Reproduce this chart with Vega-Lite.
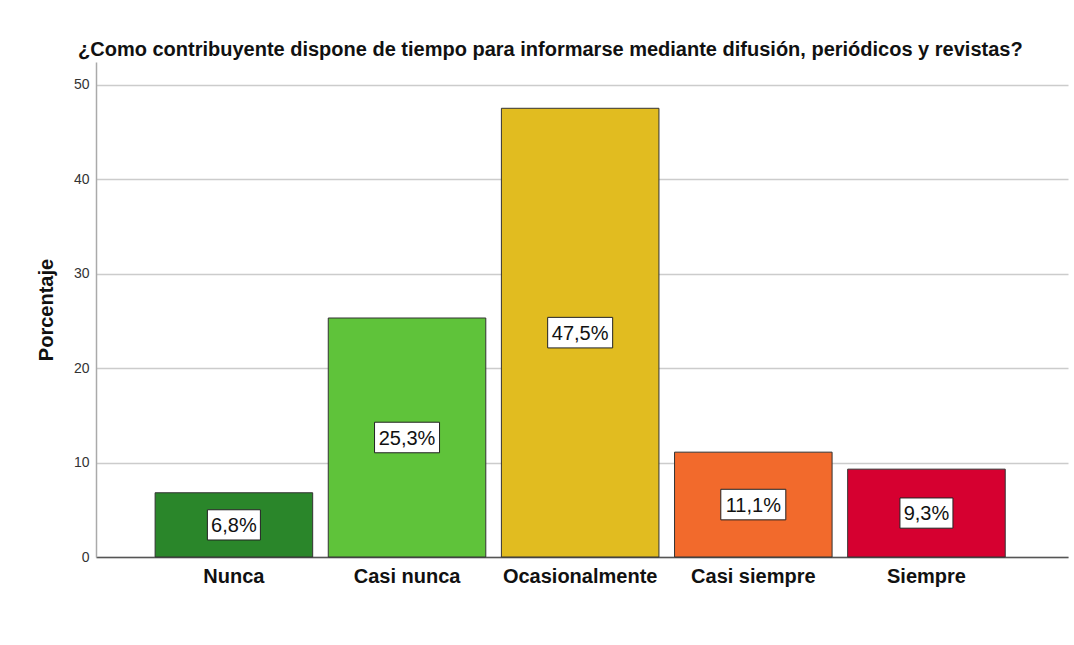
{
  "$schema": "https://vega.github.io/schema/vega-lite/v6.json",
  "width": 972,
  "height": 495,
  "autosize": {"type": "none"},
  "padding": {"left": 96, "top": 62, "right": 6, "bottom": 88},
  "background": "white",
  "title": {
    "text": "¿Como contribuyente dispone de tiempo para informarse mediante difusión, periódicos y revistas?",
    "anchor": "start",
    "frame": "group",
    "dx": -18,
    "dy": 2,
    "offset": 4,
    "font": "Liberation Sans",
    "fontSize": 20,
    "fontWeight": "bold",
    "color": "#111111"
  },
  "data": {
    "values": [
      {"categoria": "Nunca", "pct": 6.8, "label": "6,8%"},
      {"categoria": "Casi nunca", "pct": 25.3, "label": "25,3%"},
      {"categoria": "Ocasionalmente", "pct": 47.5, "label": "47,5%"},
      {"categoria": "Casi siempre", "pct": 11.1, "label": "11,1%"},
      {"categoria": "Siempre", "pct": 9.3, "label": "9,3%"}
    ]
  },
  "transform": [{"calculate": "datum.pct / 2", "as": "mid"}],
  "encoding": {
    "x": {
      "field": "categoria",
      "type": "nominal",
      "sort": null,
      "scale": {"paddingInner": 0.09, "paddingOuter": 0.352, "align": 0.485},
      "axis": {
        "title": null,
        "labelAngle": 0,
        "labelFont": "Liberation Sans",
        "labelFontSize": 20,
        "labelFontWeight": "bold",
        "labelColor": "#111111",
        "labelPadding": 9,
        "ticks": false,
        "domainColor": "#555555",
        "domainWidth": 1.5,
        "grid": false
      }
    }
  },
  "layer": [
    {
      "mark": {"type": "bar", "stroke": "#333333", "strokeWidth": 1},
      "encoding": {
        "y": {
          "field": "pct",
          "type": "quantitative",
          "scale": {"domain": [0, 52.4], "nice": false},
          "axis": {
            "title": "Porcentaje",
            "titleFont": "Liberation Sans",
            "titleFontSize": 20,
            "titleFontWeight": "bold",
            "titleColor": "#111111",
            "titlePadding": 17,
            "values": [0, 10, 20, 30, 40, 50],
            "labelFont": "Liberation Sans",
            "labelFontSize": 14,
            "labelColor": "#333333",
            "labelPadding": 7,
            "ticks": false,
            "domainColor": "#aaaaaa",
            "domainWidth": 1.5,
            "grid": true,
            "gridColor": "#cccccc",
            "gridWidth": 1.5
          }
        },
        "color": {
          "field": "categoria",
          "type": "nominal",
          "sort": null,
          "scale": {
            "domain": ["Nunca", "Casi nunca", "Ocasionalmente", "Casi siempre", "Siempre"],
            "range": ["#2a862a", "#5fc33a", "#e1bc20", "#f26a2c", "#d60030"]
          },
          "legend": null
        }
      }
    },
    {
      "mark": {"type": "point", "filled": true, "fill": "white", "stroke": "#222222", "strokeWidth": 1, "opacity": 1},
      "encoding": {
        "y": {"field": "mid", "type": "quantitative"},
        "shape": {
          "condition": {"test": "length(datum.label) > 4", "value": "M-1,-0.47H1V0.47H-1Z"},
          "value": "M-1,-0.57H1V0.57H-1Z"
        },
        "size": {
          "condition": {"test": "length(datum.label) > 4", "value": 4225},
          "value": 2809
        }
      }
    },
    {
      "mark": {"type": "text", "font": "Liberation Sans", "fontSize": 20, "color": "#111111", "baseline": "middle", "dy": 1},
      "encoding": {
        "y": {"field": "mid", "type": "quantitative"},
        "text": {"field": "label"}
      }
    }
  ],
  "config": {"view": {"stroke": null}}
}
